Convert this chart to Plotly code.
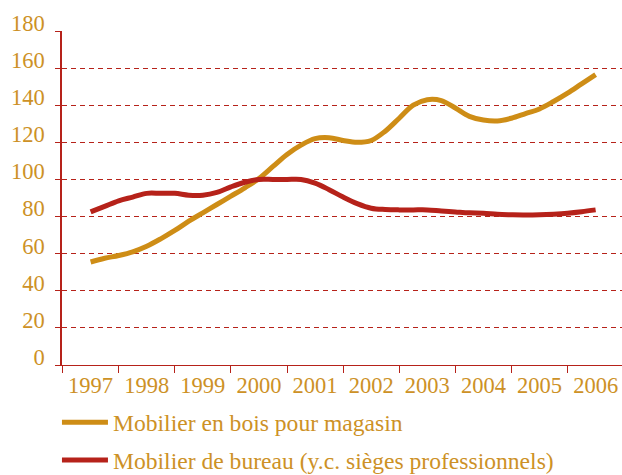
import plotly.graph_objects as go

# Quarterly index values (base 100 = 2000)
periods = [1997 + q / 4 for q in range(37)]
bois_magasin = [55.5, 57.5, 59, 61, 64, 68, 72.5, 77.5, 82, 86.5, 91, 95.5,
                100.5, 107, 113.5, 118.5, 122, 122.5, 121, 120, 121, 126, 133, 140,
                143, 142.5, 138.5, 134, 132, 131.5, 133, 135.5, 138, 142, 146.5, 151.5,
                156.5]
bureau = [82.5, 85.5, 88.5, 90.5, 92.5, 92.5, 92.5, 91.5, 91.5, 93, 96, 98.5,
          100, 100, 100, 100, 98, 94.5, 90.5, 87, 84.5, 83.8, 83.6, 83.6,
          83.6, 83, 82.5, 82, 81.8, 81.2, 81, 80.9, 81, 81.3, 81.8, 82.6,
          83.6]
series_names = ["Mobilier en bois pour magasin",
                "Mobilier de bureau (y.c. sièges professionnels)"]
years = list(range(1997, 2007))
year_labels = [str(y) for y in years]
y_ticks = list(range(0, 181, 20))

GOLD = "rgb(206,141,22)"
RED = "rgb(182,34,26)"
TEXT = "rgb(205,145,38)"
FONT = "Liberation Serif"

fig = go.Figure()
fig.add_trace(go.Scatter(x=periods, y=bois_magasin, name=series_names[0],
                         mode="lines", legendgroup="a",
                         line=dict(color=GOLD, width=5, shape="spline", smoothing=1)))
fig.add_trace(go.Scatter(x=periods, y=bureau, name=series_names[1],
                         mode="lines", legendgroup="b",
                         line=dict(color=RED, width=5, shape="spline", smoothing=1)))

fig.update_layout(
    width=622, height=475,
    margin=dict(l=62, r=0, t=31, b=110, autoexpand=False),
    paper_bgcolor="white", plot_bgcolor="white",
    font=dict(family=FONT, size=22.5, color=TEXT),
    showlegend=True,
    legend=dict(x=-0.009, y=-0.106, xanchor="left", yanchor="top",
                traceorder="grouped", tracegroupgap=4,
                font=dict(family=FONT, size=23.6, color=TEXT),
                itemwidth=46, bgcolor="rgba(0,0,0,0)"),
)

fig.update_xaxes(
    range=[1996.49, 2006.47],
    tickmode="array", tickvals=years, ticktext=year_labels,
    ticks="", showgrid=False, zeroline=False,
    showline=True, linecolor=RED, linewidth=1,
    tickfont=dict(family=FONT, size=22.5, color=TEXT),
    minor=dict(tickmode="array", tickvals=[y - 0.5 for y in years],
               ticks="outside", ticklen=7, tickcolor=RED, tickwidth=1,
               showgrid=False),
)

fig.update_yaxes(
    range=[0, 180],
    tickmode="array", tickvals=y_ticks,
    ticks="outside", ticklen=5, tickcolor=RED, tickwidth=1,
    showgrid=False, zeroline=False,
    showline=True, linecolor=RED, linewidth=1.5,
    tickfont=dict(family=FONT, size=22.5, color=TEXT),
    ticklabelshift=-8, ticklabelstandoff=6,
    minor=dict(tickmode="array", tickvals=y_ticks[1:-1], ticks="",
               showgrid=True, gridcolor=RED, gridwidth=1, griddash="5px,4px"),
)

fig.write_html("out.html")
